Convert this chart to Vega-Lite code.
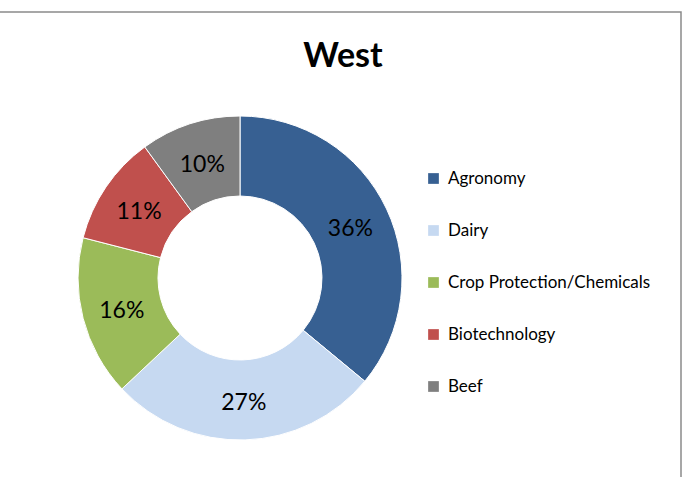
{
  "$schema": "https://vega.github.io/schema/vega-lite/v6.json",
  "width": 882,
  "height": 532,
  "autosize": {"type": "none"},
  "padding": {"left": -201, "top": 12, "right": 3, "bottom": -67},
  "background": "white",
  "config": {
    "view": {"stroke": null},
    "font": "Lato"
  },
  "title": {
    "text": "West",
    "fontSize": 34,
    "font": "Lato",
    "fontWeight": "bold",
    "color": "black",
    "anchor": "middle",
    "frame": "group",
    "baseline": "alphabetic",
    "offset": 0,
    "dx": 103,
    "dy": 90
  },
  "layer": [
    {
      "data": {"values": [{"frame": "border"}]},
      "mark": {"type": "rect", "fill": null, "stroke": "#8a8a8a", "strokeWidth": 1.5},
      "encoding": {}
    },
    {
      "data": {
        "values": [
          {"category": "Agronomy", "share": 0.36, "rank": 1},
          {"category": "Dairy", "share": 0.27, "rank": 2},
          {"category": "Crop Protection/Chemicals", "share": 0.16, "rank": 3},
          {"category": "Biotechnology", "share": 0.11, "rank": 4},
          {"category": "Beef", "share": 0.10, "rank": 5}
        ]
      },
      "encoding": {
        "theta": {"field": "share", "type": "quantitative", "stack": true},
        "order": {"field": "rank", "type": "quantitative"},
        "color": {
          "field": "category",
          "type": "nominal",
          "sort": null,
          "scale": {
            "domain": ["Agronomy", "Dairy", "Crop Protection/Chemicals", "Biotechnology", "Beef"],
            "range": ["#376092", "#C6D9F1", "#9BBB59", "#C0504D", "#7F7F7F"]
          },
          "legend": {
            "orient": "none",
            "legendX": 626,
            "legendY": 158,
            "title": null,
            "symbolType": "square",
            "symbolSize": 115,
            "symbolStrokeWidth": 0,
            "labelFontSize": 17,
            "labelFont": "Lato",
            "labelColor": "black",
            "labelOffset": 6,
            "labelLimit": 400,
            "rowPadding": 34
          }
        }
      },
      "layer": [
        {
          "mark": {"type": "arc", "outerRadius": 162, "innerRadius": 82, "stroke": "white", "strokeWidth": 1}
        },
        {
          "mark": {"type": "text", "radius": 122, "fontSize": 23, "font": "Lato", "color": "black", "dy": 3},
          "encoding": {
            "text": {"field": "share", "type": "quantitative", "format": ".0%"},
            "color": {"value": "black"}
          }
        }
      ]
    }
  ]
}
